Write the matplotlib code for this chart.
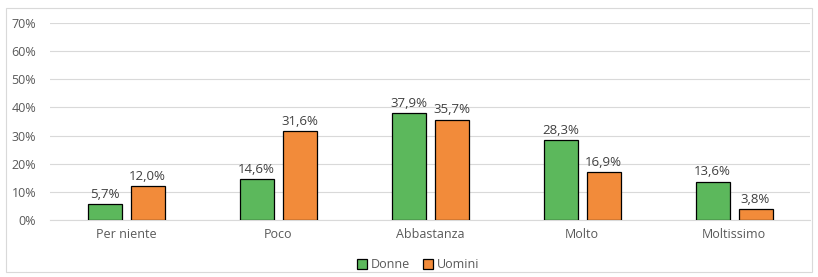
import matplotlib
matplotlib.use("Agg")
import matplotlib.pyplot as plt
import numpy as np
from matplotlib.patches import Rectangle

categories = ["Per niente", "Poco", "Abbastanza", "Molto", "Moltissimo"]
donne = [5.7, 14.6, 37.9, 28.3, 13.6]
uomini = [12.0, 31.6, 35.7, 16.9, 3.8]
yticks = [0, 10, 20, 30, 40, 50, 60, 70]

green = "#5CB85C"
orange = "#F28B3A"
txt = "#404040"

plt.rcParams['font.family'] = ['Open Sans', 'DejaVu Sans']

fig = plt.figure(figsize=(8.18, 2.77), dpi=100)
ax = fig.add_axes([50/818, 57/277, 760/818, 197/277])

x = np.arange(len(categories))
w = 34/152
gap = 9/152
b1 = ax.bar(x - (w+gap)/2, donne, width=w, color=green, edgecolor="black", linewidth=0.9, label="Donne", zorder=3)
b2 = ax.bar(x + (w+gap)/2, uomini, width=w, color=orange, edgecolor="black", linewidth=0.9, label="Uomini", zorder=3)

for bars, vals in ((b1, donne), (b2, uomini)):
    for r, v in zip(bars, vals):
        ax.text(r.get_x() + r.get_width()/2, v + 1.2, f"{v:.1f}%".replace(".", ","),
                ha="center", va="bottom", fontsize=9.5, color=txt)

ax.set_xlim(-0.5, len(categories) - 0.5)
ax.set_ylim(0, 70)
ax.set_yticks(yticks)
ax.set_yticklabels([f"{t}%" for t in yticks])
ax.set_xticks(x)
ax.set_xticklabels(categories)
ax.tick_params(axis="both", length=0, labelsize=9, colors="#595959")
ax.tick_params(axis="x", pad=6)
ax.tick_params(axis="y", pad=10)
ax.yaxis.grid(True, color="#D9D9D9", linewidth=0.8, zorder=0)
for s in ["top", "right", "left"]:
    ax.spines[s].set_visible(False)
ax.spines["bottom"].set_color("#D9D9D9")

leg = fig.legend(handles=[b1, b2], labels=["Donne", "Uomini"], loc="center",
                 bbox_to_anchor=(418/818, 1 - 265/277), ncol=2, frameon=False,
                 fontsize=9, handlelength=0.8, handleheight=0.8, handletextpad=0.3,
                 columnspacing=1.0)
for t in leg.get_texts():
    t.set_color("#595959")

fig.patches.append(Rectangle((6/818, 5/277), 806/818, 264/277, transform=fig.transFigure,
                             fill=False, edgecolor="#D9D9D9", linewidth=0.8))

fig.savefig("out.png", dpi=100)
